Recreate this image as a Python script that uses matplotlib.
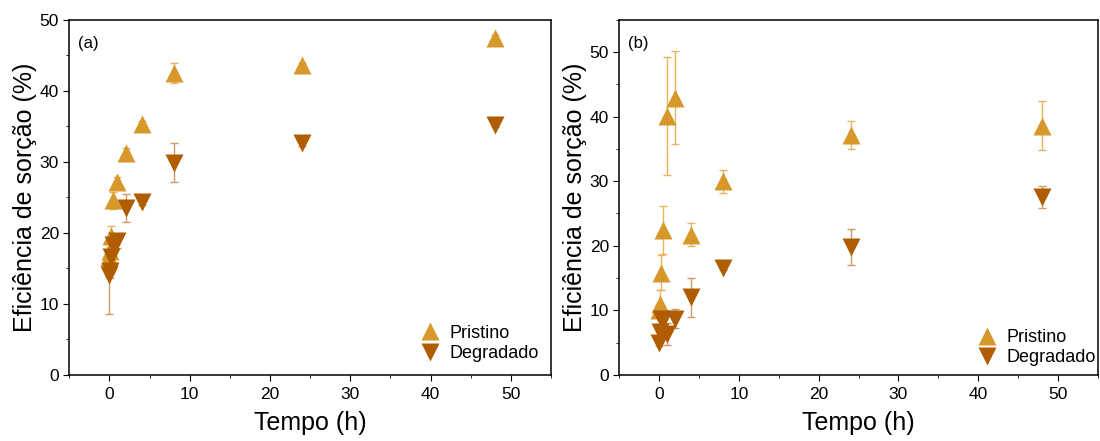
import numpy as np
import matplotlib.pyplot as plt
from matplotlib.ticker import MultipleLocator

plt.rcParams['font.family'] = ['Liberation Sans', 'DejaVu Sans']

tempo = [0, 0.083, 0.25, 0.5, 1, 2, 4, 8, 24, 48]

# painel (a)
pri_a = [16.6, 17.5, 19.6, 24.6, 27.2, 31.3, 35.3, 42.5, 43.6, 47.5]
pri_a_err = [0.5, 0.5, 1.3, 1.2, 0.6, 0.6, 0.4, 1.4, 0.3, 0.3]
deg_a = [14.0, 14.6, 16.6, 18.3, 18.8, 23.5, 24.4, 29.9, 32.6, 35.2]
deg_a_err = [5.4, 1.0, 1.0, 0.8, 1.0, 2.0, 0.5, 2.8, 0.3, 0.3]

# painel (b)
pri_b = [10.0, 11.0, 15.8, 22.5, 40.1, 42.9, 21.7, 30.0, 37.2, 38.6]
pri_b_err = [0.8, 2.1, 2.7, 3.7, 9.2, 7.2, 1.8, 1.8, 2.2, 3.8]
deg_b = [5.0, 6.6, 8.7, 8.5, 6.3, 8.7, 12.0, 16.5, 19.8, 27.6]
deg_b_err = [0.5, 1.0, 1.0, 1.0, 1.7, 1.5, 3.0, 0.3, 2.8, 1.7]

c_pri = '#D6982A'
c_deg = '#B05C02'
c_pri_err = '#E6B45E'
c_deg_err = '#D09A6A'

label_size = 18
tick_size = 12.5
legend_size = 13

fig = plt.figure(figsize=(11, 4.41), dpi=100)
ax1 = fig.add_axes([0.063, 0.150, 0.438, 0.805])
ax2 = fig.add_axes([0.563, 0.150, 0.435, 0.805])


def painel(ax, pri, pri_err, deg, deg_err, ymax, letra, leg_pos):
	ax.errorbar(tempo, pri, yerr=pri_err, fmt='none', ecolor=c_pri_err, elinewidth=1, capsize=3, capthick=1, zorder=1)
	ax.errorbar(tempo, deg, yerr=deg_err, fmt='none', ecolor=c_deg_err, elinewidth=1, capsize=3, capthick=1, zorder=1)
	ax.plot(tempo, pri, linestyle='none', marker='^', ms=13, color=c_pri, mec='none', label='Pristino', zorder=3)
	ax.plot(tempo, deg, linestyle='none', marker='v', ms=13, color=c_deg, mec='none', label='Degradado', zorder=3)
	ax.set_xlim(-5, 55)
	ax.set_ylim(0, ymax)
	ax.xaxis.set_major_locator(MultipleLocator(10))
	ax.xaxis.set_minor_locator(MultipleLocator(5))
	ax.yaxis.set_major_locator(MultipleLocator(10))
	ax.yaxis.set_minor_locator(MultipleLocator(5))
	ax.tick_params(which='both', direction='out', top=False, right=False, labelsize=tick_size)
	ax.tick_params(which='major', length=4)
	ax.tick_params(which='minor', length=2.5)
	ax.tick_params(axis='x', pad=5)
	for s in ax.spines.values():
		s.set_linewidth(1.1)
	ax.set_xlabel('Tempo (h)', fontsize=label_size, labelpad=6)
	ax.set_ylabel('Eficiência de sorção (%)', fontsize=label_size, labelpad=2)
	ax.text(0.018, 0.955, letra, transform=ax.transAxes, fontsize=12, va='top', ha='left')
	ax.legend(loc='lower right', bbox_to_anchor=leg_pos, frameon=False, fontsize=legend_size,
		handletextpad=0.3, labelspacing=0.2, borderaxespad=0.3, handlelength=1.5)


painel(ax1, pri_a, pri_a_err, deg_a, deg_a_err, 50, '(a)', (1.0, 0.0))
painel(ax2, pri_b, pri_b_err, deg_b, deg_b_err, 55, '(b)', (1.022, -0.012))

fig.savefig('out.png', dpi=100)
